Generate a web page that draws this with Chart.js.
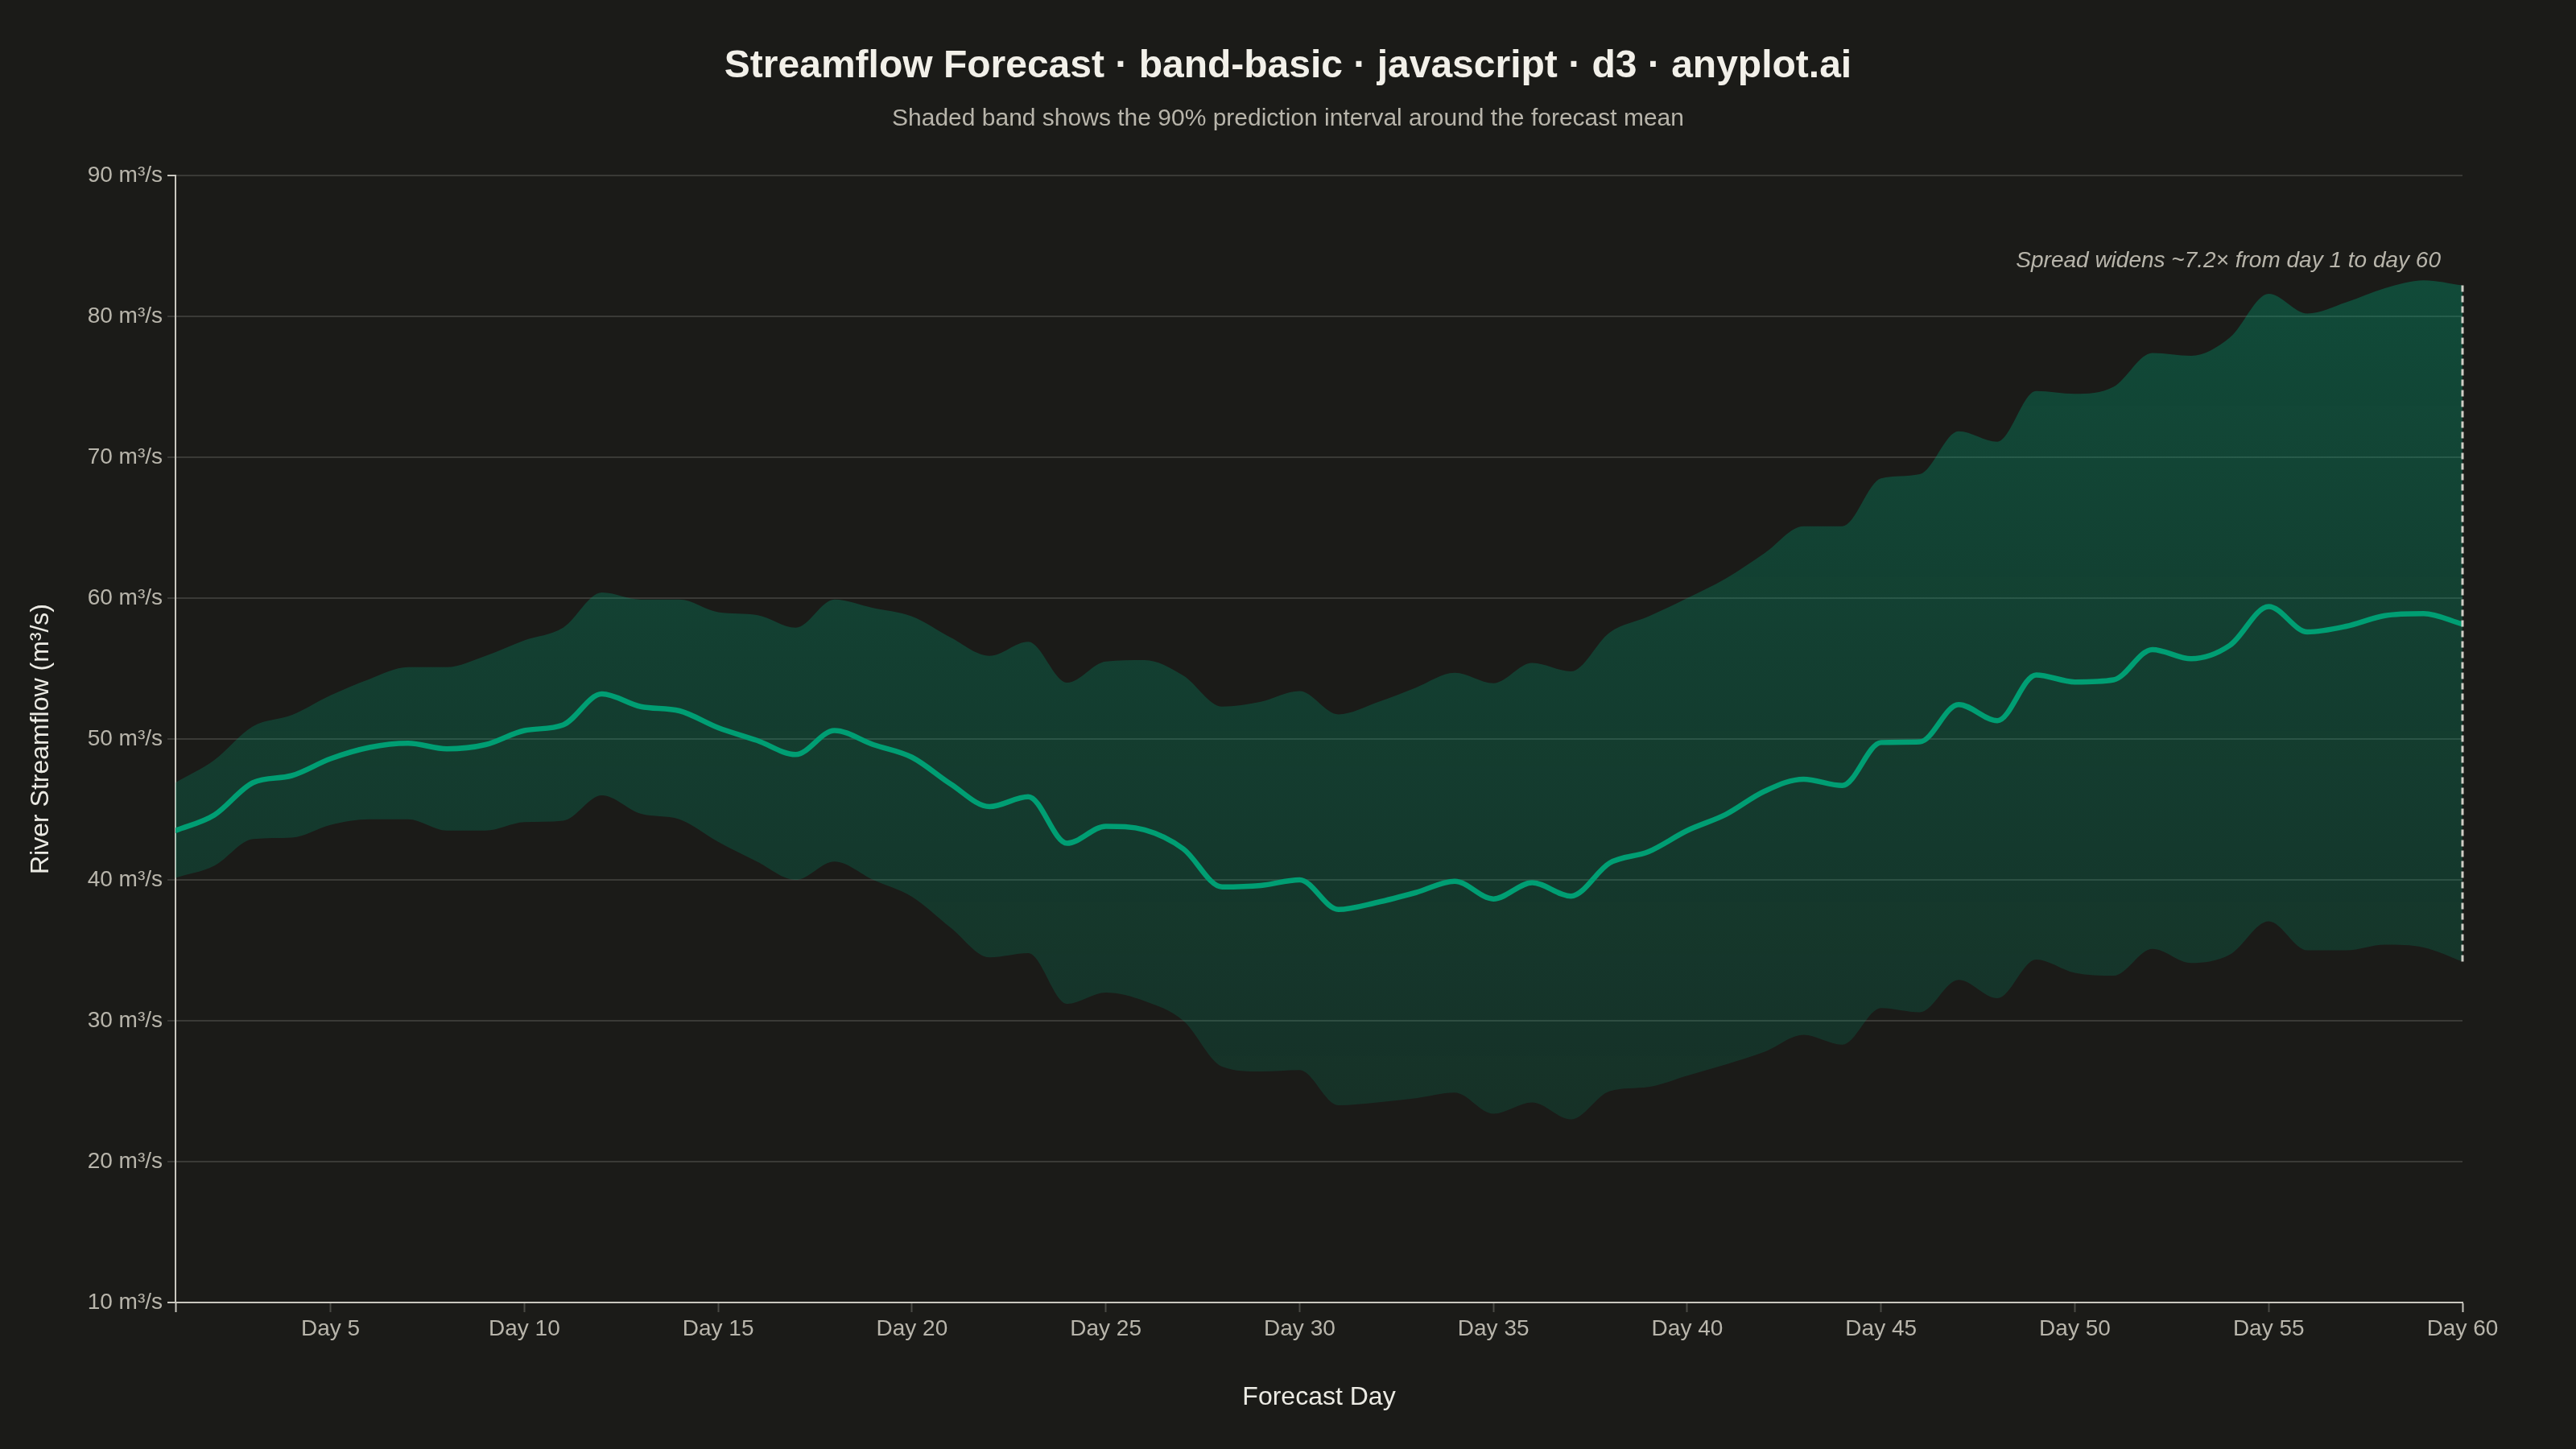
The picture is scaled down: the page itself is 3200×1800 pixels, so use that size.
<!DOCTYPE html>
<html>
<head>
<meta charset="utf-8">
<title>Streamflow Forecast</title>
<script src="https://cdn.jsdelivr.net/npm/chart.js@4.4.1/dist/chart.umd.min.js"></script>
<style>
  html, body { margin: 0; padding: 0; background: #1b1b18; }
  #wrap { width: 3200px; height: 1800px; }
</style>
</head>
<body>
<div id="wrap"><canvas id="chart" width="3200" height="1800"></canvas></div>
<script>
// forecast days (x categories)
const days = [1, 2, 3, 4, 5, 6, 7, 8, 9, 10, 11, 12, 13, 14, 15, 16, 17, 18, 19, 20,
  21, 22, 23, 24, 25, 26, 27, 28, 29, 30, 31, 32, 33, 34, 35, 36, 37, 38, 39, 40,
  41, 42, 43, 44, 45, 46, 47, 48, 49, 50, 51, 52, 53, 54, 55, 56, 57, 58, 59, 60];

// forecast mean, m3/s
const mean = [43.5, 44.6, 46.9, 47.4, 48.6, 49.4, 49.7, 49.3, 49.6, 50.6,
  51.0, 53.2, 52.3, 52.0, 50.8, 49.9, 48.9, 50.6, 49.6, 48.7,
  46.8, 45.2, 45.9, 42.6, 43.8, 43.55, 42.2, 39.5, 39.6, 40.0,
  37.9, 38.4, 39.1, 39.9, 38.65, 39.8, 38.85, 41.2, 42.0, 43.5,
  44.65, 46.3, 47.15, 46.7, 49.75, 49.8, 52.45, 51.3, 54.55, 54.05,
  54.2, 56.35, 55.7, 56.65, 59.4, 57.6, 58.0, 58.76, 58.9, 58.15];

// 90% interval, upper bound
const upper = [46.9, 48.5, 50.9, 51.7, 53.1, 54.25, 55.1, 55.1, 55.9, 57.0,
  57.9, 60.4, 59.9, 59.9, 59.0, 58.8, 57.9, 59.9, 59.3, 58.7,
  57.2, 55.9, 56.9, 54.0, 55.5, 55.6, 54.5, 52.3, 52.65, 53.4,
  51.75, 52.6, 53.65, 54.7, 53.96, 55.4, 54.8, 57.56, 58.7, 60.0,
  61.4, 63.2, 65.1, 65.1, 68.5, 68.8, 71.85, 71.1, 74.7, 74.5,
  75.0, 77.4, 77.2, 78.5, 81.6, 80.2, 81.0, 82.0, 82.56, 82.2];

// 90% interval, lower bound
const lower = [40.15, 41.0, 42.9, 43.0, 43.9, 44.3, 44.3, 43.5, 43.5, 44.1,
  44.2, 46.0, 44.7, 44.3, 42.7, 41.3, 40.0, 41.3, 40.0, 38.8,
  36.6, 34.5, 34.8, 31.2, 32.0, 31.4, 30.0, 26.75, 26.4, 26.5,
  24.0, 24.2, 24.5, 24.9, 23.4, 24.2, 23.0, 25.0, 25.3, 26.1,
  26.9, 27.8, 29.0, 28.3, 30.9, 30.6, 32.9, 31.6, 34.35, 33.4,
  33.2, 35.1, 34.1, 34.7, 37.06, 35.0, 35.0, 35.4, 35.2, 34.2];

// x ticks (1 only carries the outer tick, no label)
const xTicks = [1, 5, 10, 15, 20, 25, 30, 35, 40, 45, 50, 55, 60];

const FONT = '"Liberation Sans", Arial, Helvetica, sans-serif';
const GREEN = '#009E73';
const AXIS = '#c9c7bf';
const GRID = '#3a3a36';
const MUTED = '#b8b5ab';

function bandFill(ctx) {
  const chart = ctx.chart;
  const y = chart.scales.y;
  if (!chart.chartArea || !y) return 'rgba(0,158,115,0.3)';
  const g = chart.ctx.createLinearGradient(0, y.getPixelForValue(84), 0, y.getPixelForValue(22));
  g.addColorStop(0, 'rgba(0,158,115,0.37)');
  g.addColorStop(1, 'rgba(0,158,115,0.17)');
  return g;
}

// dashed spread marker at the last day + note
const spreadNote = {
  id: 'spreadNote',
  afterDatasetsDraw(chart) {
    const { ctx, chartArea, scales: { x, y } } = chart;
    const last = days.length - 1;
    const px = x.getPixelForValue(days[last]);
    ctx.save();
    ctx.strokeStyle = '#d0cec6';
    ctx.lineWidth = 3;
    ctx.setLineDash([8, 5]);
    ctx.beginPath();
    ctx.moveTo(px, y.getPixelForValue(upper[last]));
    ctx.lineTo(px, y.getPixelForValue(lower[last]));
    ctx.stroke();
    ctx.setLineDash([]);
    ctx.font = 'italic 28px ' + FONT;
    ctx.fillStyle = MUTED;
    ctx.textAlign = 'right';
    ctx.textBaseline = 'middle';
    ctx.fillText('Spread widens ~7.2\u00d7 from day 1 to day 60', px - 27, chartArea.top + 106);
    ctx.restore();
  }
};

new Chart(document.getElementById('chart'), {
  type: 'line',
  data: {
    labels: days,
    datasets: [
      {
        label: 'Forecast mean',
        data: days.map((d, i) => ({ x: d, y: mean[i] })),
        borderColor: GREEN,
        borderWidth: 6.5,
        borderCapStyle: 'round',
        borderJoinStyle: 'round',
        pointRadius: 0,
        cubicInterpolationMode: 'monotone',
        fill: false,
        order: 0
      },
      {
        label: 'Upper 90%',
        data: days.map((d, i) => ({ x: d, y: upper[i] })),
        borderWidth: 0,
        borderColor: 'rgba(0,0,0,0)',
        backgroundColor: bandFill,
        pointRadius: 0,
        cubicInterpolationMode: 'monotone',
        fill: '+1',
        order: 1
      },
      {
        label: 'Lower 90%',
        data: days.map((d, i) => ({ x: d, y: lower[i] })),
        borderWidth: 0,
        borderColor: 'rgba(0,0,0,0)',
        pointRadius: 0,
        cubicInterpolationMode: 'monotone',
        fill: false,
        order: 2
      }
    ]
  },
  options: {
    responsive: false,
    devicePixelRatio: 1,
    animation: false,
    layout: { padding: 0 },
    plugins: {
      legend: { display: false },
      tooltip: { enabled: false },
      title: {
        display: true,
        text: 'Streamflow Forecast \u00b7 band-basic \u00b7 javascript \u00b7 d3 \u00b7 anyplot.ai',
        color: '#f2f0e9',
        font: { family: FONT, size: 48, weight: 'bold', lineHeight: 1.2 },
        padding: { top: 54, bottom: 0 }
      },
      subtitle: {
        display: true,
        text: 'Shaded band shows the 90% prediction interval around the forecast mean',
        color: MUTED,
        font: { family: FONT, size: 30, weight: 'normal', lineHeight: 1.2 },
        padding: { top: 18, bottom: 52.4 }
      }
    },
    scales: {
      x: {
        type: 'linear',
        min: 1,
        max: 60,
        afterBuildTicks: (s) => { s.ticks = xTicks.map(v => ({ value: v })); },
        afterFit: (s) => { s.height = 182; },
        ticks: {
          autoSkip: false,
          maxRotation: 0,
          padding: 4,
          color: MUTED,
          font: { family: FONT, size: 28 },
          callback: (v) => (v === 1 ? '' : 'Day ' + v)
        },
        grid: {
          drawOnChartArea: false,
          drawTicks: true,
          tickLength: 12,
          tickWidth: 2,
          tickColor: (c) => (c.tick && (c.tick.value === 1 || c.tick.value === 60) ? AXIS : '#4a4a45')
        },
        border: { display: true, color: AXIS, width: 2 },
        title: {
          display: true,
          text: 'Forecast Day',
          color: '#ecebe4',
          font: { family: FONT, size: 32, lineHeight: 1.2 },
          padding: { top: 0, bottom: 45 }
        }
      },
      y: {
        min: 10,
        max: 90,
        afterFit: (s) => { s.width = 218; },
        ticks: {
          stepSize: 10,
          padding: 6,
          color: MUTED,
          font: { family: FONT, size: 28 },
          callback: (v) => v + ' m\u00b3/s'
        },
        grid: {
          color: GRID,
          lineWidth: 2,
          tickLength: 10,
          tickWidth: 2,
          tickColor: (c) => (c.tick && (c.tick.value === 10 || c.tick.value === 90) ? AXIS : GRID)
        },
        border: { display: true, color: AXIS, width: 2 },
        title: {
          display: true,
          text: 'River Streamflow (m\u00b3/s)',
          color: '#ecebe4',
          font: { family: FONT, size: 32, lineHeight: 1.2 },
          padding: { top: 32, bottom: 0 }
        }
      },
      // empty right-hand gutter so titles centre on the full page
      gutter: {
        type: 'linear',
        position: 'right',
        display: true,
        afterFit: (s) => { s.width = 141; },
        ticks: { display: false },
        grid: { display: false, drawTicks: false },
        border: { display: false }
      }
    }
  },
  plugins: [spreadNote]
});
</script>
</body>
</html>
